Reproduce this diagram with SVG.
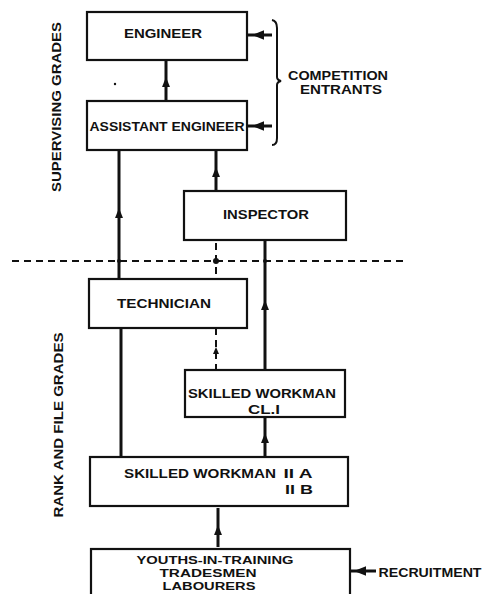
<svg xmlns="http://www.w3.org/2000/svg" width="482" height="594" viewBox="0 0 482 594">
<style>
.box{fill:#fff;stroke:#111;stroke-width:2.2}
.t{font-family:"Liberation Sans",Arial,sans-serif;font-weight:bold;font-size:13px;fill:#111;text-anchor:middle;dominant-baseline:central}
.s{font-size:11.5px}
.c{fill:none;stroke:#111;stroke-width:3}
.d{fill:none;stroke:#111;stroke-width:2;stroke-dasharray:7 5}
.thin{fill:none;stroke:#111;stroke-width:2}
</style>
<defs>
<marker id="ah" viewBox="0 0 10 10" refX="5" refY="5" markerWidth="3.3" markerHeight="3.3" orient="auto" markerUnits="strokeWidth">
<path d="M0,1 L10,5 L0,9 Z" fill="#111"/>
</marker>
<marker id="ah2" viewBox="0 0 10 10" refX="5" refY="5" markerWidth="4" markerHeight="4" orient="auto" markerUnits="strokeWidth">
<path d="M0,1 L10,5 L0,9 Z" fill="#111"/>
</marker>
</defs>

<g id="labels">
<text class="t" transform="translate(56,107) rotate(-90)" textLength="170" lengthAdjust="spacingAndGlyphs">SUPERVISING GRADES</text>
<text class="t" transform="translate(58,425) rotate(-90)" textLength="185" lengthAdjust="spacingAndGlyphs">RANK AND FILE GRADES</text>
<text class="t" x="338" y="75" textLength="100" lengthAdjust="spacingAndGlyphs">COMPETITION</text>
<text class="t" x="341" y="89" textLength="82" lengthAdjust="spacingAndGlyphs">ENTRANTS</text>
<text class="t" x="430" y="572" textLength="103" lengthAdjust="spacingAndGlyphs">RECRUITMENT</text>
<circle cx="115" cy="84" r="1.2" fill="#111"/>
</g>

<g id="connectors">
<line class="d" x1="12" y1="261" x2="408" y2="261"/>
<path class="c" d="M166,101 L166,82 L166,60" marker-mid="url(#ah)"/>
<path class="c" d="M119,279 L119,213 L119,151" marker-mid="url(#ah)"/>
<path class="c" d="M216,191 L216,172 L216,151" marker-mid="url(#ah)"/>
<path class="c" d="M265,370 L265,305 L265,241" marker-mid="url(#ah)"/>
<path class="c" d="M121,328 L121,457"/>
<path class="c" d="M265,457 L265,438 L265,418" marker-mid="url(#ah)"/>
<path class="c" d="M218,547 L218,530 L218,508" marker-mid="url(#ah)"/>
<path class="d" d="M216,243 L216,279"/>
<path class="d" d="M216,328 L216,369"/>
<path d="M216,347 l-3,7 l6,0 z" fill="#111"/>
<circle cx="216" cy="261" r="3" fill="#111"/>
<circle cx="119" cy="261" r="2" fill="#111"/>
<circle cx="265" cy="261" r="2" fill="#111"/>
<path class="thin" d="M272,20 Q277,21 277,28 L277,77 Q277,80 281,81 Q277,82 277,85 L277,138 Q277,145 272,145"/>
<path class="c" d="M272,35 L258,35 L248,35" stroke-width="2" marker-mid="url(#ah2)"/>
<path class="c" d="M272,126 L258,126 L248,126" stroke-width="2" marker-mid="url(#ah2)"/>
<path class="c" d="M376,571 L360,571 L350,571" stroke-width="2" marker-mid="url(#ah2)"/>
</g>

<g id="engineer">
<rect class="box" x="87" y="12" width="160" height="48"/>
<text class="t" x="163" y="33" textLength="78" lengthAdjust="spacingAndGlyphs">ENGINEER</text>
</g>
<g id="assistant-engineer">
<rect class="box" x="87" y="101" width="160" height="49"/>
<text class="t" x="167" y="126" textLength="155" lengthAdjust="spacingAndGlyphs">ASSISTANT ENGINEER</text>
</g>
<g id="inspector">
<rect class="box" x="184" y="191" width="162" height="49"/>
<text class="t" x="266" y="214" textLength="86" lengthAdjust="spacingAndGlyphs">INSPECTOR</text>
</g>
<g id="technician">
<rect class="box" x="89" y="279" width="158" height="49"/>
<text class="t" x="164" y="303" textLength="94" lengthAdjust="spacingAndGlyphs">TECHNICIAN</text>
</g>
<g id="skilled-workman-cl1">
<rect class="box" x="185" y="370" width="160" height="47"/>
<text class="t" x="262" y="393" textLength="148" lengthAdjust="spacingAndGlyphs">SKILLED WORKMAN</text>
<text class="t" x="264" y="409" textLength="32" lengthAdjust="spacingAndGlyphs">CL.I</text>
</g>
<g id="skilled-workman-2">
<rect class="box" x="90" y="457" width="258" height="49"/>
<text class="t" x="200" y="473" textLength="152" lengthAdjust="spacingAndGlyphs">SKILLED WORKMAN</text>
<text class="t" x="298" y="473" textLength="29" lengthAdjust="spacingAndGlyphs">II A</text>
<text class="t" x="299" y="489" textLength="28" lengthAdjust="spacingAndGlyphs">II B</text>
</g>
<g id="youths">
<rect class="box" x="91" y="549" width="259" height="52"/>
<text class="t s" x="215" y="560" textLength="157" lengthAdjust="spacingAndGlyphs">YOUTHS-IN-TRAINING</text>
<text class="t s" x="208" y="573" textLength="97" lengthAdjust="spacingAndGlyphs">TRADESMEN</text>
<text class="t s" x="209" y="586" textLength="93" lengthAdjust="spacingAndGlyphs">LABOURERS</text>
</g>
</svg>
